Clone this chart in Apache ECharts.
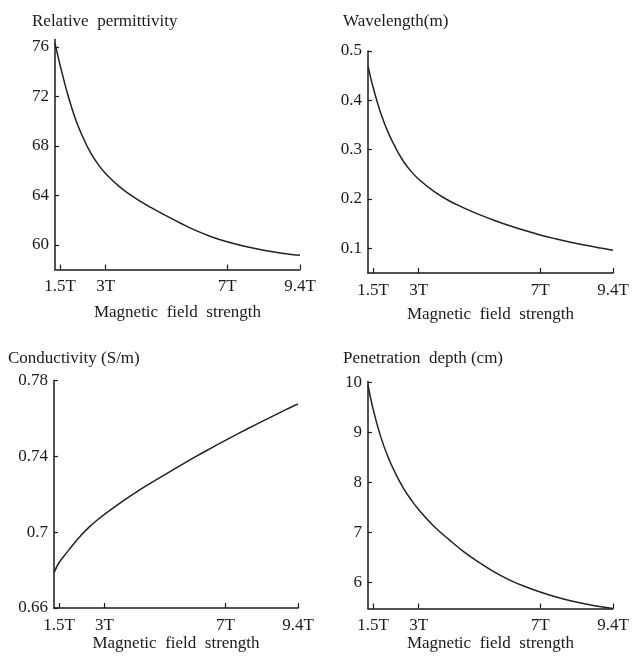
<!DOCTYPE html>
<html>
<head>
<meta charset="utf-8">
<script src="https://cdn.jsdelivr.net/npm/echarts@6/dist/echarts.min.js"></script>
<style>
  html, body { margin: 0; padding: 0; background: #fff; }
  #main { width: 635px; height: 660px; }
</style>
</head>
<body>
<div id="main"></div>
<script>
// 场强 (T)
var fieldT = [1.33, 1.5, 1.75, 2, 2.25, 2.5, 2.75, 3, 3.5, 4, 4.5, 5, 5.5, 6, 6.5, 7, 7.5, 8, 8.5, 9, 9.4];
var fieldTicks = [1.5, 3, 7, 9.4];

// 四个子图的数据
var permittivity = [76.3, 74.5, 72.15, 70.2, 68.7, 67.45, 66.5, 65.75, 64.6, 63.73, 63.0, 62.33, 61.7, 61.12, 60.63, 60.24, 59.92, 59.66, 59.44, 59.26, 59.15];
var wavelength = [0.47, 0.426, 0.374, 0.334, 0.3025, 0.276, 0.256, 0.240, 0.2155, 0.1965, 0.1815, 0.1683, 0.1565, 0.1457, 0.136, 0.1272, 0.1195, 0.1125, 0.1062, 0.1005, 0.0962];
var conductivity = [0.6786, 0.684, 0.6892, 0.6942, 0.6988, 0.7028, 0.7063, 0.7094, 0.7152, 0.7206, 0.7256, 0.7304, 0.7351, 0.7397, 0.7441, 0.7484, 0.7526, 0.7567, 0.7607, 0.7646, 0.7677];
var penetration = [9.95, 9.46, 8.91, 8.49, 8.16, 7.88, 7.65, 7.45, 7.12, 6.85, 6.6, 6.39, 6.2, 6.04, 5.91, 5.8, 5.705, 5.625, 5.56, 5.505, 5.47];

// y轴刻度
var permTicks = [60, 64, 68, 72, 76];
var waveTicks = [0.1, 0.2, 0.3, 0.4, 0.5];
var condTicks = [0.66, 0.7, 0.74, 0.78];
var penTicks = [6, 7, 8, 9, 10];

var titles = ['Relative  permittivity', 'Wavelength(m)', 'Conductivity (S/m)', 'Penetration  depth (cm)'];

var font = 'Liberation Serif, Times New Roman, serif';
var ink = '#1a1a1a';

var panels = [
    { title: titles[0], data: permittivity, ticks: permTicks, min: 58, max: 76.6, grid: { left: 55, top: 39.5, width: 245, height: 230 }, tx: 32, ty: 13, nameGap: 35 },
    { title: titles[1], data: wavelength, ticks: waveTicks, min: 0.05, max: 0.5, grid: { left: 368, top: 51, width: 245, height: 222 }, tx: 343, ty: 13, nameGap: 33 },
    { title: titles[2], data: conductivity, ticks: condTicks, min: 0.66, max: 0.78, grid: { left: 54, top: 380.5, width: 244, height: 227.5 }, tx: 8, ty: 350, nameGap: 27 },
    { title: titles[3], data: penetration, ticks: penTicks, min: 5.47, max: 10.02, grid: { left: 368, top: 381.5, width: 245, height: 227 }, tx: 343, ty: 350, nameGap: 27 }
];

var option = {
    backgroundColor: '#fff',
    animation: false,
    title: [],
    grid: [],
    xAxis: [],
    yAxis: [],
    series: []
};

panels.forEach(function (p, i) {
    option.title.push({
        text: p.title,
        left: p.tx,
        top: p.ty,
        padding: 0,
        textStyle: { fontFamily: font, fontSize: 17, fontWeight: 'normal', color: ink }
    });
    option.grid.push({
        left: p.grid.left,
        top: p.grid.top,
        width: p.grid.width,
        height: p.grid.height,
        containLabel: false,
        outerBoundsMode: 'none'
    });
    option.xAxis.push({
        type: 'value',
        gridIndex: i,
        min: 1.33,
        max: 9.4,
        name: 'Magnetic  field  strength',
        nameLocation: 'middle',
        nameGap: p.nameGap,
        nameTextStyle: { fontFamily: font, fontSize: 17, color: ink },
        axisLine: { onZero: false, lineStyle: { color: ink, width: 1.5 } },
        axisTick: { show: true, inside: true, length: 5, customValues: fieldTicks, lineStyle: { color: ink, width: 1.2 } },
        axisLabel: {
            customValues: fieldTicks,
            margin: 9,
            fontFamily: font,
            fontSize: 17,
            color: ink,
            formatter: function (v) { return v + 'T'; }
        },
        splitLine: { show: false }
    });
    option.yAxis.push({
        type: 'value',
        gridIndex: i,
        min: p.min,
        max: p.max,
        axisLine: { show: true, onZero: false, lineStyle: { color: ink, width: 1.5 } },
        axisTick: { show: true, inside: true, length: 4, customValues: p.ticks, lineStyle: { color: ink, width: 1.2 } },
        axisLabel: {
            customValues: p.ticks,
            margin: 6,
            fontFamily: font,
            fontSize: 17,
            color: ink
        },
        splitLine: { show: false }
    });
    var pts = fieldT.map(function (t, k) { return [t, p.data[k]]; });
    option.series.push({
        type: 'line',
        xAxisIndex: i,
        yAxisIndex: i,
        data: pts,
        smooth: 0.4,
        showSymbol: false,
        lineStyle: { color: '#222', width: 1.5 }
    });
});

var myChart = echarts.init(document.getElementById('main'));
myChart.setOption(option);
</script>
</body>
</html>
